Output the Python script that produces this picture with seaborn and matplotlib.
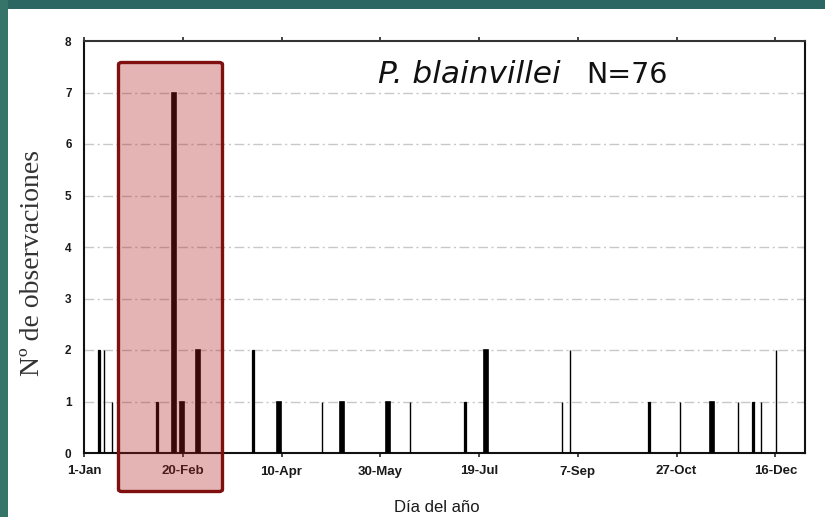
import numpy as np
import pandas as pd
import seaborn as sns
import matplotlib.pyplot as plt
from matplotlib.patches import Rectangle, FancyBboxPatch

# ---- data ----
tick_days = [0, 50, 100, 150, 200, 250, 300, 350]
tick_labels = ["1-Jan", "20-Feb", "10-Apr", "30-May", "19-Jul", "7-Sep", "27-Oct", "16-Dec"]
y_ticks = [0, 1, 2, 3, 4, 5, 6, 7, 8]

thick_days = [45.5, 49.5, 57.5, 98.5, 130.5, 154, 203.5, 318]
thick_counts = [7, 1, 2, 1, 1, 1, 2, 1]
medium_days = [7.5, 37, 85.5, 193, 286, 338.5]
medium_counts = [2, 1, 2, 1, 1, 1]
thin_days = [10, 14, 120.5, 165, 242, 246, 301.5, 331, 342.5, 350.5]
thin_counts = [2, 1, 1, 1, 1, 2, 1, 1, 1, 2]

sns.set_style("white")
plt.rcParams['font.family'] = ['Liberation Sans', 'DejaVu Sans']

W, H = 825, 517
fig = plt.figure(figsize=(W / 100, H / 100), dpi=100)
fig.patch.set_facecolor("white")

ax = fig.add_axes([84 / W, 1 - 453 / H, (805 - 84) / W, (453 - 41) / H])
ax.set_facecolor("white")

def draw(days, counts, width_days, lw):
    df = pd.DataFrame({"day": days, "n": counts})
    mind = np.min(np.diff(np.sort(np.asarray(days, dtype=float))))
    sns.barplot(data=df, x="day", y="n", native_scale=True,
                width=width_days / mind, color="black", saturation=1,
                edgecolor="black", linewidth=lw, errorbar=None, ax=ax, zorder=3)

draw(thick_days, thick_counts, 2.0, 1.2)
draw(medium_days, medium_counts, 1.0, 0.9)
draw(thin_days, thin_counts, 0.05, 1.0)

ax.set_xlim(0, 365)
ax.set_ylim(0, 8)
ax.set_xticks(tick_days)
ax.set_xticklabels(tick_labels, fontsize=9.5, color="#1a1a1a", fontweight="bold")
ax.set_yticks(y_ticks)
ax.set_yticklabels([str(v) for v in y_ticks], fontsize=8.5, color="#1a1a1a", fontweight="bold")
ax.tick_params(axis="x", which="both", direction="out", length=3, width=1.2,
               top=True, bottom=True, pad=6)
ax.tick_params(axis="y", which="both", direction="in", length=3, width=0.8,
               left=False, right=True, pad=9)

for v in range(1, 8):
    ax.axhline(v, color="#c8c8c8", lw=1, linestyle=(0, (7, 2.5, 1.5, 2.5)), zorder=1)

for s in ax.spines.values():
    s.set_visible(True)
    s.set_color("#111111")
    s.set_linewidth(1.5)
ax.spines["top"].set_color("#333333")

def fx(px):
    return (px - 84) / (805 - 84)

def fy(py):
    return (453 - py) / (453 - 41)

ax.set_xlabel("Día del año", fontsize=12, color="#1a1a1a")
ax.xaxis.set_label_coords(fx(437), fy(507))
ax.xaxis.label.set_va("center")
ax.set_ylabel("Nº de observaciones", fontsize=20, family=["Liberation Serif", "DejaVu Serif"],
              color="#333333")
ax.yaxis.set_label_coords(fx(45), fy(263))

ax.text(fx(378), fy(83), "P. blainvillei", transform=ax.transAxes, fontsize=22.5,
        style="italic", family=["DejaVu Sans"], ha="left", va="baseline", color="#111111")
ax.text(fx(668), fy(83), "N=76", transform=ax.transAxes, fontsize=20.5,
        family=["DejaVu Sans"], ha="right", va="baseline", color="#111111")

# teal frame bands
fig.patches.append(Rectangle((0, 1 - 9 / H), 1, 9 / H, transform=fig.transFigure,
                             facecolor="#2c6662", edgecolor="none", zorder=10))
fig.patches.append(Rectangle((0, 0), 8 / W, 1, transform=fig.transFigure,
                             facecolor="#367369", edgecolor="none", zorder=10))

# highlight box
x0, x1, yt, yb = 118.5, 222.5, 62.5, 491.5
fig.patches.append(FancyBboxPatch((x0 / W, 1 - yb / H), (x1 - x0) / W, (yb - yt) / H,
                                  boxstyle="round,pad=0,rounding_size=0.004",
                                  transform=fig.transFigure, facecolor=(174/255, 30/255, 30/255, 0.333),
                                  edgecolor="#801010", linewidth=2.4, zorder=20))

fig.savefig("out.png", dpi=100)
